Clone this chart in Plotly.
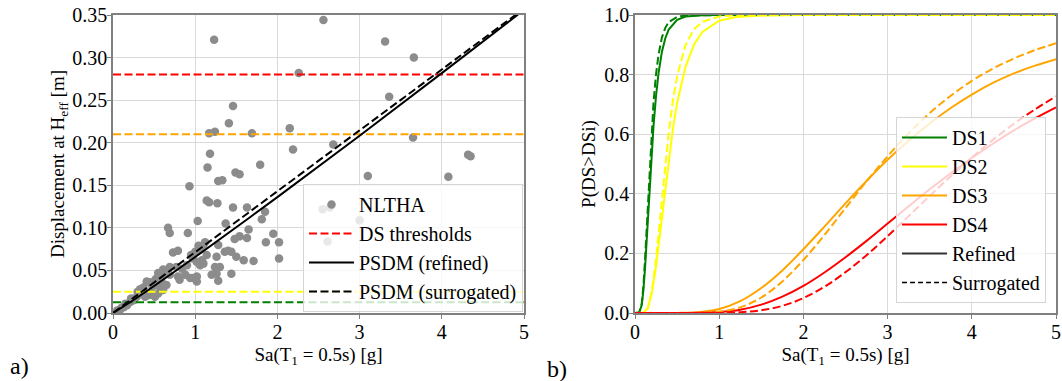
import plotly.graph_objects as go

# ---------------- data ----------------
# NLTHA results: Sa [g], displacement [m]
nltha_sa = [1.23, 2.56, 2.26, 1.46, 1.41, 1.17, 1.24, 1.69, 2.15, 2.19, 1.18, 2.68, 3.31, 3.66,
            3.36, 3.65, 4.32, 4.35, 3.10, 4.08, 0.93, 1.15, 1.49, 1.54, 1.28, 1.33, 1.79,
            2.55, 2.64, 3.00, 2.61,
            1.14, 1.17, 1.27, 1.03, 0.67, 0.69, 0.91, 1.46, 1.63, 1.85, 1.81, 1.37, 1.65, 1.95,
            1.54, 1.48, 1.63, 1.86, 2.02, 2.02, 1.71, 1.59, 1.50, 1.36, 1.40, 1.44, 1.26, 1.30,
            1.26, 1.28, 1.44, 1.28, 1.24,
            0.73, 0.79, 1.04, 1.10, 1.14, 1.08, 1.06, 1.10, 1.20, 1.02, 0.94, 0.88, 0.79, 0.69,
            0.61, 0.69, 0.55, 0.59, 0.53, 0.45, 0.37, 0.47, 0.35, 0.29, 0.25, 0.21, 0.17, 0.13,
            0.085, 0.39, 0.43, 0.51, 0.55, 0.61, 0.77, 0.84, 0.90, 1.02, 0.81, 0.98, 1.02, 0.41,
            1.00, 1.06, 0.95, 0.62, 0.66, 0.30, 0.22, 0.33, 0.15, 0.05, 0.10, 0.57, 0.65, 0.48,
            0.52, 1.12, 0.97]
nltha_d = [0.321, 0.344, 0.282, 0.243, 0.223, 0.211, 0.213, 0.211, 0.217, 0.192, 0.187, 0.198, 0.319, 0.300,
           0.254, 0.206, 0.186, 0.184, 0.161, 0.160, 0.149, 0.171, 0.165, 0.163, 0.155, 0.156, 0.174,
           0.122, 0.124, 0.109, 0.084,
           0.132, 0.130, 0.129, 0.108, 0.100, 0.094, 0.094, 0.124, 0.124, 0.119, 0.110, 0.105, 0.098, 0.093,
           0.090, 0.087, 0.088, 0.083, 0.083, 0.064, 0.061, 0.062, 0.066, 0.072, 0.073, 0.072, 0.066, 0.054,
           0.046, 0.038, 0.046, 0.080, 0.054,
           0.071, 0.073, 0.079, 0.080, 0.068, 0.062, 0.056, 0.058, 0.045, 0.043, 0.041, 0.045, 0.043, 0.045,
           0.051, 0.054, 0.047, 0.037, 0.033, 0.036, 0.030, 0.025, 0.023, 0.019, 0.015, 0.013, 0.009, 0.0067,
           0.0035, 0.019, 0.021, 0.019, 0.023, 0.027, 0.054, 0.052, 0.056, 0.060, 0.039, 0.041, 0.037, 0.037,
           0.072, 0.075, 0.068, 0.045, 0.050, 0.025, 0.017, 0.028, 0.011, 0.003, 0.006, 0.031, 0.033, 0.031,
           0.040, 0.083, 0.064]

# damage-state thresholds [m]
ds_names = ["DS1", "DS2", "DS3", "DS4"]
ds_colors = ["green", "#ffff00", "orange", "red"]
ds_thresholds = [0.0125, 0.025, 0.21, 0.28]
threshold_sa = [0, 5]

# PSDM lines
psdm_sa = [0, 0.25, 0.5, 1, 2, 3, 4, 5]
psdm_refined = [0, 0.0153, 0.0317, 0.0657, 0.1361, 0.2082, 0.2817, 0.356]
psdm_surrogated = [0, 0.0179, 0.0358, 0.0715, 0.143, 0.2145, 0.286, 0.3575]

# fragility curves
sa_ds1 = [0, 0.05, 0.08, 0.10, 0.12, 0.14, 0.16, 0.18, 0.20, 0.22, 0.25, 0.28, 0.32, 0.36, 0.40,
          0.50, 0.60, 0.80, 1.00, 1.5, 2, 3, 4, 5]
ds1_ref = [0, 0.0015, 0.027, 0.077, 0.154, 0.249, 0.351, 0.452, 0.545, 0.628, 0.729, 0.806, 0.877,
           0.922, 0.951, 0.984, 0.995, 0.999, 1, 1, 1, 1, 1, 1]
ds1_sur = [0, 0.0014, 0.031, 0.091, 0.185, 0.298, 0.416, 0.527, 0.625, 0.707, 0.802, 0.868, 0.925,
           0.957, 0.976, 0.994, 0.998, 1, 1, 1, 1, 1, 1, 1]

sa_ds2 = [0, 0.10, 0.15, 0.20, 0.25, 0.30, 0.35, 0.40, 0.45, 0.50, 0.60, 0.70, 0.80, 1.00, 1.20,
          1.50, 2, 3, 4, 5]
ds2_ref = [0, 0.001, 0.016, 0.067, 0.157, 0.274, 0.398, 0.516, 0.618, 0.704, 0.826, 0.900, 0.943,
           0.981, 0.993, 0.998, 1, 1, 1, 1]
ds2_sur = [0, 0.001, 0.014, 0.071, 0.181, 0.324, 0.472, 0.604, 0.712, 0.794, 0.899, 0.952, 0.977,
           0.995, 0.999, 1, 1, 1, 1, 1]

sa_ds34 = [0, 0.25, 0.5, 0.75, 1.0, 1.25, 1.5, 1.75, 2.0, 2.25, 2.5, 2.75, 3.0, 3.25, 3.5, 3.75,
           4.0, 4.25, 4.5, 4.75, 5.0]
ds3_ref = [0, 0, 0.0002, 0.0026, 0.0136, 0.040, 0.084, 0.143, 0.214, 0.290, 0.368, 0.443, 0.514,
           0.578, 0.636, 0.688, 0.733, 0.772, 0.804, 0.830, 0.852]
ds3_sur = [0, 0, 0, 0.0005, 0.0045, 0.019, 0.052, 0.106, 0.178, 0.262, 0.352, 0.442, 0.526,
           0.603, 0.671, 0.729, 0.779, 0.820, 0.854, 0.882, 0.905]
ds4_ref = [0, 0, 0, 0.0005, 0.0032, 0.011, 0.028, 0.055, 0.091, 0.136, 0.187, 0.242, 0.300,
           0.358, 0.415, 0.469, 0.520, 0.568, 0.613, 0.653, 0.690]
ds4_sur = [0, 0, 0, 0, 0.0004, 0.0026, 0.0094, 0.024, 0.050, 0.088, 0.137, 0.194, 0.258,
           0.325, 0.393, 0.459, 0.522, 0.581, 0.635, 0.683, 0.727]

left_yticks = [0.00, 0.05, 0.10, 0.15, 0.20, 0.25, 0.30, 0.35]
right_yticks = [0.0, 0.2, 0.4, 0.6, 0.8, 1.0]
xticks = [0, 1, 2, 3, 4, 5]

# ---------------- figure ----------------
FONT = "Liberation Serif, Times New Roman, serif"
W, H = 1062, 381
DASH = "8px,3.5px"

fig = go.Figure()

# left panel
fig.add_trace(go.Scatter(x=nltha_sa, y=nltha_d, mode="markers", name="NLTHA",
                         marker=dict(color="#8c8c8c", size=8.5), xaxis="x", yaxis="y",
                         legend="legend"))
order = [3, 0, 1, 2]
for i in order:
    fig.add_trace(go.Scatter(x=threshold_sa, y=[ds_thresholds[i]] * 2, mode="lines",
                             name="DS thresholds", showlegend=(i == 3),
                             line=dict(color=ds_colors[i], width=2, dash=DASH),
                             xaxis="x", yaxis="y", legend="legend"))
fig.add_trace(go.Scatter(x=psdm_sa, y=psdm_refined, mode="lines", name="PSDM (refined)",
                         line=dict(color="black", width=2, shape="spline"),
                         xaxis="x", yaxis="y", legend="legend"))
fig.add_trace(go.Scatter(x=psdm_sa, y=psdm_surrogated, mode="lines", name="PSDM (surrogated)",
                         line=dict(color="black", width=2, dash=DASH, shape="spline"),
                         xaxis="x", yaxis="y", legend="legend"))

# right panel
curves = [(sa_ds1, ds1_ref, ds1_sur, "linear"), (sa_ds2, ds2_ref, ds2_sur, "linear"),
          (sa_ds34, ds3_ref, ds3_sur, "spline"), (sa_ds34, ds4_ref, ds4_sur, "spline")]
for i, (sx, yr, ys, shp) in enumerate(curves):
    fig.add_trace(go.Scatter(x=sx, y=yr, mode="lines", name=ds_names[i],
                             line=dict(color=ds_colors[i], width=2, shape=shp),
                             xaxis="x2", yaxis="y2", legend="legend2"))
for i, (sx, yr, ys, shp) in enumerate(curves):
    fig.add_trace(go.Scatter(x=sx, y=ys, mode="lines", name=ds_names[i] + " (surrogated)",
                             showlegend=False,
                             line=dict(color=ds_colors[i], width=2, dash=DASH, shape=shp),
                             xaxis="x2", yaxis="y2", legend="legend2"))
fig.add_trace(go.Scatter(x=[None], y=[None], mode="lines", name="Refined",
                         line=dict(color="#333333", width=2), xaxis="x2", yaxis="y2",
                         legend="legend2"))
fig.add_trace(go.Scatter(x=[None], y=[None], mode="lines", name="Surrogated",
                         line=dict(color="black", width=1.5, dash="5px,3px"), xaxis="x2",
                         yaxis="y2", legend="legend2"))

ydom = [(H - 313) / H, (H - 15) / H]
axis_common = dict(showline=True, mirror=True, linecolor="#808080", linewidth=1.5,
                   showgrid=True, gridcolor="#d9d9d9", gridwidth=1, ticks="outside",
                   ticklen=4, tickcolor="#808080", zeroline=False, automargin=False,
                   ticklabelstandoff=-4,
                   tickfont=dict(family=FONT, size=20, color="black"))
title_font = dict(family=FONT, size=19, color="black")
legend_font = dict(family=FONT, size=20, color="black")

fig.update_layout(
    width=W, height=H, margin=dict(l=0, r=0, t=0, b=0, autoexpand=False),
    paper_bgcolor="white", plot_bgcolor="white",
    font=dict(family=FONT, size=19, color="black"),
    xaxis=dict(domain=[113 / W, 524 / W], range=[0, 5], tickvals=xticks, anchor="y",
               title=dict(text="Sa(T<sub>1</sub> = 0.5s) [g]", font=title_font, standoff=6),
               **axis_common),
    yaxis=dict(domain=ydom, range=[0, 0.35], tickvals=left_yticks, tickformat=".2f",
               anchor="x",
               title=dict(text="Displacement at H<sub>eff</sub> [m]", font=title_font, standoff=3),
               **axis_common),
    xaxis2=dict(domain=[635 / W, 1056 / W], range=[0, 5], tickvals=xticks, anchor="y2",
                title=dict(text="Sa(T<sub>1</sub> = 0.5s) [g]", font=title_font, standoff=6),
                **axis_common),
    yaxis2=dict(domain=ydom, range=[0, 1.0], tickvals=right_yticks, tickformat=".1f",
                anchor="x2",
                title=dict(text="P(DS>DSi)", font=title_font, standoff=4),
                **axis_common),
    legend=dict(x=523 / W, y=(H - 312) / H, xanchor="right", yanchor="bottom",
                bgcolor="rgba(255,255,255,0.8)", bordercolor="#d5d5d5", borderwidth=1,
                font=legend_font, itemwidth=45, tracegroupgap=0),
    legend2=dict(x=1046 / W, y=(H - 303) / H, xanchor="right", yanchor="bottom",
                 bgcolor="rgba(255,255,255,0.8)", bordercolor="#d5d5d5", borderwidth=1,
                 font=legend_font, itemwidth=45, tracegroupgap=0),
    annotations=[
        dict(text="a)", x=19 / W, y=(H - 366) / H, xref="paper", yref="paper",
             xanchor="center", yanchor="middle",
             showarrow=False, font=dict(family=FONT, size=24, color="black")),
        dict(text="b)", x=557 / W, y=(H - 369) / H, xref="paper", yref="paper",
             xanchor="center", yanchor="middle",
             showarrow=False, font=dict(family=FONT, size=24, color="black")),
    ],
)

fig.write_html("out.html", config={"displayModeBar": False},
               post_script="document.body.style.margin='0';"
                           "document.body.style.overflow='hidden';")
